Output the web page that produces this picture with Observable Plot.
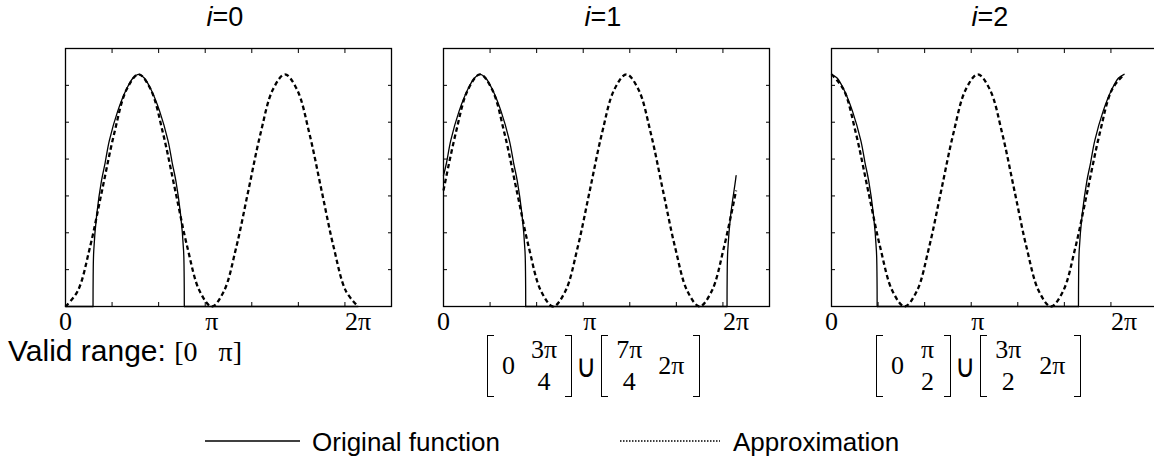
<!DOCTYPE html>
<html>
<head>
<meta charset="utf-8">
<script src="https://cdn.jsdelivr.net/npm/d3@7"></script>
<script src="https://cdn.jsdelivr.net/npm/@observablehq/plot@0.6"></script>
<style>
  body { margin: 0; background: #fff; width: 1154px; height: 464px; overflow: hidden; position: relative;
         font-family: "Liberation Sans", Arial, sans-serif; color: #000; }
  .panel { position: absolute; top: 0; }
  .panel svg { max-width: none !important; display: block; }
  .approx path { stroke-dasharray: 4.5 3 !important; stroke-linecap: butt; }
  .title { position: absolute; top: 4px; font-size: 27px; line-height: 1; transform: translateX(-50%); white-space: nowrap; }
  .serif { font-family: "Liberation Serif", "Times New Roman", serif; }
  .valid { position: absolute; left: 8px; top: 336px; font-size: 30px; line-height: 1; white-space: nowrap; }
  .valid .serif { font-size: 28px; }
  .expr { position: absolute; top: 335px; height: 62px; display: flex; align-items: center;
          font-family: "Liberation Serif", "Times New Roman", serif; font-size: 26px; white-space: nowrap; }
  .lb, .rb { width: 7px; height: 62px; border: 1.3px solid #000; box-sizing: border-box; }
  .lb { border-right: none; }
  .rb { border-left: none; }
  .frac { display: inline-flex; flex-direction: column; align-items: center; line-height: 1.22; }
  .cup { font-family: "Liberation Sans", Arial, sans-serif; font-size: 28px; margin: 0 4px; transform: scaleY(1.15); }
  .legend { position: absolute; top: 427px; left: 0; font-size: 26px; line-height: 1; white-space: nowrap; }
  .legend span { position: absolute; top: 2px; }
  .legend svg { position: absolute; top: 0; }
</style>
</head>
<body>
<script>
// Panel titles and horizontal layout
const panelTitles = ["0", "1", "2"];
const frameLefts = [64.5, 443, 831];
const titleCenters = [225, 603, 990];

// Axis ticks and labels (x in radians, y in tick units)
const xTicks = [1, 2, 3, 4, 5, 6];
const yTicks = [1, 2, 3, 4, 5, 6];
const xLabelValues = [0, Math.PI, 2 * Math.PI];
const xLabels = ["0", "π", "2π"];

// Approximation samples, every π/12 from 0 to 2π
const approxX = [0, 0.262, 0.524, 0.785, 1.047, 1.309, 1.571, 1.833, 2.094, 2.356, 2.618, 2.880,
                 3.142, 3.403, 3.665, 3.927, 4.189, 4.451, 4.712, 4.974, 5.236, 5.498, 5.760, 6.021, 6.283];
const approxI0 = [0, 0.42, 1.6, 3.15, 4.7, 5.88, 6.3, 5.88, 4.7, 3.15, 1.6, 0.42, 0,
                  0.42, 1.6, 3.15, 4.7, 5.88, 6.3, 5.88, 4.7, 3.15, 1.6, 0.42, 0];
const approxI1 = [3.15, 4.7, 5.88, 6.3, 5.88, 4.7, 3.15, 1.6, 0.42, 0, 0.42, 1.6, 3.15,
                  4.7, 5.88, 6.3, 5.88, 4.7, 3.15, 1.6, 0.42, 0, 0.42, 1.6, 3.15];
const approxI2 = [6.3, 5.88, 4.7, 3.15, 1.6, 0.42, 0, 0.42, 1.6, 3.15, 4.7, 5.88, 6.3,
                  5.88, 4.7, 3.15, 1.6, 0.42, 0, 0.42, 1.6, 3.15, 4.7, 5.88, 6.3];

// Original function: [x, y, segment]; zero outside the valid range
const originalI0 = [
  [0, 0, 0], [0.591, 0, 0],
  [0.591, 0, 1], [0.594, 0.8, 1], [0.606, 1.5, 1], [0.671, 2.5, 1], [0.771, 3.4, 1], [0.851, 3.9, 1],
  [0.941, 4.5, 1], [1.121, 5.3, 1], [1.311, 5.9, 1], [1.451, 6.2, 1], [1.571, 6.3, 1], [1.691, 6.2, 1],
  [1.831, 5.9, 1], [2.021, 5.3, 1], [2.201, 4.5, 1], [2.291, 3.9, 1], [2.371, 3.4, 1], [2.471, 2.5, 1],
  [2.536, 1.5, 1], [2.548, 0.8, 1], [2.551, 0, 1],
  [2.551, 0, 2], [6.283, 0, 2]
];
const originalI1 = [
  [0, 3.55, 0], [0.065, 3.9, 0], [0.155, 4.5, 0], [0.335, 5.3, 0], [0.525, 5.9, 0], [0.665, 6.2, 0],
  [0.785, 6.3, 0], [0.905, 6.2, 0], [1.045, 5.9, 0], [1.235, 5.3, 0], [1.415, 4.5, 0], [1.505, 3.9, 0],
  [1.585, 3.4, 0], [1.685, 2.5, 0], [1.75, 1.5, 0], [1.762, 0.8, 0], [1.765, 0, 0],
  [1.765, 0, 1], [6.088, 0, 1],
  [6.088, 0, 2], [6.091, 0.8, 2], [6.103, 1.5, 2], [6.168, 2.5, 2], [6.268, 3.4, 2], [6.283, 3.55, 2]
];
const originalI2 = [
  [0, 6.3, 0], [0.12, 6.2, 0], [0.26, 5.9, 0], [0.45, 5.3, 0], [0.63, 4.5, 0], [0.72, 3.9, 0],
  [0.80, 3.4, 0], [0.90, 2.5, 0], [0.965, 1.5, 0], [0.977, 0.8, 0], [0.98, 0, 0],
  [0.98, 0, 1], [5.303, 0, 1],
  [5.303, 0, 2], [5.306, 0.8, 2], [5.318, 1.5, 2], [5.383, 2.5, 2], [5.483, 3.4, 2], [5.563, 3.9, 2],
  [5.653, 4.5, 2], [5.833, 5.3, 2], [6.023, 5.9, 2], [6.163, 6.2, 2], [6.283, 6.3, 2]
];

const originals = [originalI0, originalI1, originalI2];
const approximations = [approxI0, approxI1, approxI2];

const margin = {left: 20, right: 20, top: 48, bottom: 40};
const innerW = 326, innerH = 258;

originals.forEach((orig, k) => {
  const approx = approxX.map((x, j) => ({x, y: approximations[k][j]}));
  const blank = () => "";
  const width = margin.left + innerW + margin.right;
  const chart = Plot.plot({
    width,
    height: margin.top + innerH + margin.bottom,
    marginLeft: margin.left, marginRight: margin.right,
    marginTop: margin.top, marginBottom: margin.bottom,
    x: {domain: [0, 7], label: null},
    y: {domain: [0, 7], label: null},
    style: {background: "transparent", overflow: "visible", maxWidth: "none"},
    marks: [
      Plot.axisX({anchor: "bottom", ticks: xTicks, tickSize: -4, tickFormat: blank}),
      Plot.axisX({anchor: "top", ticks: xTicks, tickSize: -4, tickFormat: blank}),
      Plot.axisY({anchor: "left", ticks: yTicks, tickSize: -4, tickFormat: blank}),
      Plot.axisY({anchor: "right", ticks: yTicks, tickSize: -4, tickFormat: blank}),
      Plot.axisX({anchor: "bottom", ticks: xLabelValues, tickSize: 0, tickPadding: 5,
                  tickFormat: (d, i) => xLabels[i], fontSize: 26,
                  fontFamily: "Liberation Serif, Times New Roman, serif"}),
      Plot.line(orig, {x: d => d[0], y: d => d[1], z: d => d[2], curve: "catmull-rom",
                       stroke: "#000", strokeWidth: 1.3}),
      Plot.line(approx, {x: "x", y: "y", curve: "catmull-rom", stroke: "#000",
                         strokeWidth: 2.3, strokeDasharray: "4.5,3", className: "approx"}),
      Plot.frame({stroke: "#000", strokeWidth: 1.3})
    ]
  });
  const holder = document.createElement("div");
  holder.className = "panel";
  holder.style.left = (frameLefts[k] - margin.left) + "px";
  holder.style.width = width + "px";
  holder.appendChild(chart);
  document.body.appendChild(holder);

  const t = document.createElement("div");
  t.className = "title";
  t.style.left = titleCenters[k] + "px";
  t.innerHTML = `<i>i</i>=${panelTitles[k]}`;
  document.body.appendChild(t);
});

// Valid ranges under each panel
const valid = document.createElement("div");
valid.className = "valid";
valid.innerHTML = `Valid range: <span class="serif">[0&nbsp;&nbsp;&nbsp;π]</span>`;
document.body.appendChild(valid);

function frac(n, d) { return `<span class="frac"><span>${n}</span><span>${d}</span></span>`; }
const ranges = [
  {left: 487, html: `<span class="lb"></span><span style="margin:0 16px 0 8px">0</span>${frac("3π", "4")}<span class="rb" style="margin-left:8px"></span><span class="cup">∪</span><span class="lb"></span><span style="margin-left:8px">${frac("7π", "4")}</span><span style="margin:0 9px 0 16px">2π</span><span class="rb"></span>`},
  {left: 876, html: `<span class="lb"></span><span style="margin:0 17px 0 8px">0</span>${frac("π", "2")}<span class="rb" style="margin-left:10px"></span><span class="cup">∪</span><span class="lb"></span><span style="margin-left:8px">${frac("3π", "2")}</span><span style="margin:0 9px 0 18px">2π</span><span class="rb"></span>`}
];
ranges.forEach(r => {
  const e = document.createElement("div");
  e.className = "expr";
  e.style.left = r.left + "px";
  e.innerHTML = r.html;
  document.body.appendChild(e);
});

// Legend
const legend = document.createElement("div");
legend.className = "legend";
legend.innerHTML = `
  <svg width="1154" height="30" style="left:0">
    <line x1="205" x2="300" y1="14" y2="14" stroke="#000" stroke-width="1.3"/>
    <line x1="620" x2="720" y1="14" y2="14" stroke="#000" stroke-width="1.6" stroke-dasharray="1.5,1.5"/>
  </svg>
  <span style="left:312px">Original function</span>
  <span style="left:733px">Approximation</span>`;
document.body.appendChild(legend);
</script>
</body>
</html>
